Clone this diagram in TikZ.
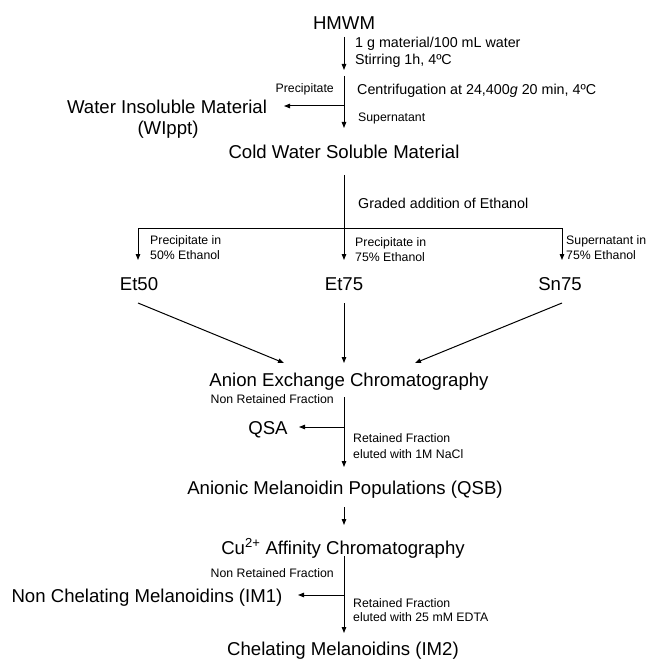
\documentclass[tikz,border=0pt]{standalone}
\usepackage{fontspec}
\setmainfont{Liberation Sans}
\usetikzlibrary{arrows.meta}
\begin{document}
\begin{tikzpicture}[x=1pt,y=-1pt,
  big/.style={inner sep=0pt,anchor=base,font=\fontsize{18.6}{22}\selectfont},
  mid/.style={inner sep=0pt,anchor=base west,font=\fontsize{14.3}{17}\selectfont},
  sml/.style={inner sep=0pt,anchor=base west,font=\fontsize{12.3}{15}\selectfont},
  smlr/.style={sml,anchor=base east},
  ln/.style={line width=1pt},
  arr/.style={ln,-{Triangle[length=6pt,width=4.5pt]}}]
\useasboundingbox (0,0) rectangle (647,660);
% main nodes
\node[big] (hmwm) at (344,30) {HMWM};
\node[big] (wi) at (167,114) {Water Insoluble Material};
\node[big] (wippt) at (168,135) {(WIppt)};
\node[big] (cws) at (344,159) {Cold Water Soluble Material};
\node[big] (et50) at (139,290) {Et50};
\node[big] (et75) at (344,290) {Et75};
\node[big] (sn75) at (560,290) {Sn75};
\node[big] (aec) at (349,386) {Anion Exchange Chromatography};
\node[big] (qsa) at (268,434) {QSA};
\node[big] (qsb) at (345,494) {Anionic Melanoidin Populations (QSB)};
\node[big] (cu) at (343,554) {Cu\textsuperscript{2+} Affinity Chromatography};
\node[big] (im1) at (147,602) {Non Chelating Melanoidins (IM1)};
\node[big] (im2) at (343,655) {Chelating Melanoidins (IM2)};
% labels
\node[mid] (l1) at (355,48) {1 g material/100 mL water};
\node[mid] (l2) at (355,65) {Stirring 1h, 4ºC};
\node[mid] (l3) at (357,95) {Centrifugation at 24,400\textit{g} 20 min, 4ºC};
\node[smlr] (l4) at (334,93) {Precipitate};
\node[sml] (l5) at (358,122) {Supernatant};
\node[mid] (l6) at (358,208) {Graded addition of Ethanol};
\node[sml] (l7) at (150,244) {Precipitate in};
\node[sml] (l8) at (150,259) {50\% Ethanol};
\node[sml] (l9) at (355,246) {Precipitate in};
\node[sml] (l10) at (355,261) {75\% Ethanol};
\node[sml] (l11) at (566,244) {Supernatant in};
\node[sml] (l12) at (566,259) {75\% Ethanol};
\node[smlr] (l13) at (334,403) {Non Retained Fraction};
\node[sml] (l14) at (353,442) {Retained Fraction};
\node[sml] (l15) at (353,458) {eluted with 1M NaCl};
\node[smlr] (l16) at (334,577) {Non Retained Fraction};
\node[sml] (l17) at (353,607) {Retained Fraction};
\node[sml] (l18) at (353,621) {eluted with 25 mM EDTA};
% coordinates
\coordinate (a1s) at (344,37);
\coordinate (a1e) at (344,70);
\coordinate (a2s) at (344,76);
\coordinate (a2e) at (344,128);
\coordinate (b2) at (344,106);
\coordinate (b2e) at (284,106);
\coordinate (a3s) at (344,175);
\coordinate (hl) at (138,228);
\coordinate (hm) at (344,228);
\coordinate (hr) at (562,228);
\coordinate (dl) at (138,260);
\coordinate (dm) at (344,260);
\coordinate (dr) at (562,260);
\coordinate (gl) at (138,303);
\coordinate (gm) at (344,303);
\coordinate (gr) at (562,303);
\coordinate (tl) at (284,363);
\coordinate (tm) at (344,363);
\coordinate (tr) at (415,363);
\coordinate (a4s) at (344,397);
\coordinate (a4e) at (344,467);
\coordinate (b4) at (344,427);
\coordinate (b4e) at (299,427);
\coordinate (a5s) at (344,507);
\coordinate (a5e) at (344,525);
\coordinate (a6s) at (344,556);
\coordinate (a6e) at (344,633);
\coordinate (b6) at (344,595);
\coordinate (b6e) at (298,595);
% connectors
\draw[arr] (a1s) -- (a1e);
\draw[arr] (a2s) -- (a2e);
\draw[arr] (b2) -- (b2e);
\draw[arr] (a3s) -- (dm);
\draw[ln] (hl) -- (hr);
\draw[arr] (hl) -- (dl);
\draw[arr] (hr) -- (dr);
\draw[arr] (gl) -- (tl);
\draw[arr] (gm) -- (tm);
\draw[arr] (gr) -- (tr);
\draw[arr] (a4s) -- (a4e);
\draw[arr] (b4) -- (b4e);
\draw[arr] (a5s) -- (a5e);
\draw[arr] (a6s) -- (a6e);
\draw[arr] (b6) -- (b6e);
\end{tikzpicture}
\end{document}
